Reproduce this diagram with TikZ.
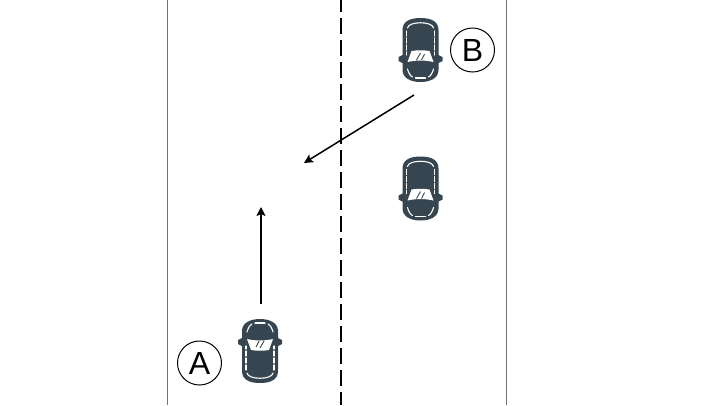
\documentclass[tikz,border=0pt]{standalone}
\usepackage{fontspec}
\setmainfont{Liberation Sans}
\usepackage{xcolor}
\usetikzlibrary{arrows.meta}
\definecolor{carbody}{HTML}{36454F}

\begin{document}
\begin{tikzpicture}[
        x=1pt, y=-1pt,
        roadedge/.style={draw=black!55, line width=1pt},
        lanemark/.style={draw=black, line width=2pt, dash pattern=on 16pt off 6pt, dash phase=4pt},
        arrow/.style={-{Stealth[length=9pt, width=9pt, inset=2pt]}, line width=1.5pt},
        badge/.style={circle, draw=black, line width=1pt, minimum size=44pt, inner sep=0pt, font=\fontsize{32}{32}\selectfont},
        detail/.style={draw=white, line width=1.1pt, line cap=round},
        car/.pic={
            \fill[carbody] (-18,-20) .. controls (-18,-29) and (-10,-32) .. (0,-32)
                .. controls (10,-32) and (18,-29) .. (18,-20) -- (18,5) -- (22,7) -- (22,11) -- (18,13) -- (18,20)
                .. controls (18,28) and (10,32) .. (0,32)
                .. controls (-10,32) and (-18,28) .. (-18,20) -- (-18,13) -- (-22,11) -- (-22,7) -- (-18,5) -- cycle;
            \draw[detail] (-13,-22) .. controls (-12,-29) and (12,-29) .. (13,-22);
            \draw[detail, dash pattern=on 5pt off 2pt] (-14,-19) -- (-14,5);
            \draw[detail, dash pattern=on 5pt off 2pt] (14,-19) -- (14,5);
            \fill[white] (-9,1) .. controls (-3,0) and (3,0) .. (9,1) -- (13,12) .. controls (4,10) and (-4,10) .. (-13,12) -- cycle;
            \draw[carbody, line width=0.9pt] (-4,10) -- (0,3) (1,10) -- (4,4);
            \draw[detail] (-13,19) .. controls (-12,23) and (-10,26) .. (-8,27);
            \draw[detail] (13,19) .. controls (12,23) and (10,26) .. (8,27);
            \draw[detail] (-5,28) -- (5,28);
        },
    ]
        \useasboundingbox (0,0) rectangle (720,405);
        \fill[white] (0,0) rectangle (720,405);

        % road
        \coordinate (edgeLtop) at (167,0);
        \coordinate (edgeLbot) at (167,405);
        \coordinate (edgeRtop) at (506,0);
        \coordinate (edgeRbot) at (506,405);
        \coordinate (laneTop) at (341,0);
        \coordinate (laneBot) at (341,405);
        \draw[roadedge] (edgeLtop) -- (edgeLbot);
        \draw[roadedge] (edgeRtop) -- (edgeRbot);
        \draw[lanemark] (laneTop) -- (laneBot);

        % cars
        \pic (carA) at (260,351) [rotate=180] {car};
        \pic (carB) at (420.5,50) {car};
        \pic (carC) at (420.5,188.5) {car};
        \node[badge] (labelA) at (199.5,363) {A};
        \node[badge] (labelB) at (472.5,50) {B};

        % moves
        \coordinate (moveAfrom) at (261,304);
        \coordinate (moveAto) at (261,207);
        \coordinate (moveBfrom) at (414,95);
        \coordinate (moveBto) at (304,163);
        \draw[arrow] (moveAfrom) -- (moveAto);
        \draw[arrow] (moveBfrom) -- (moveBto);
    \end{tikzpicture}
\end{document}
